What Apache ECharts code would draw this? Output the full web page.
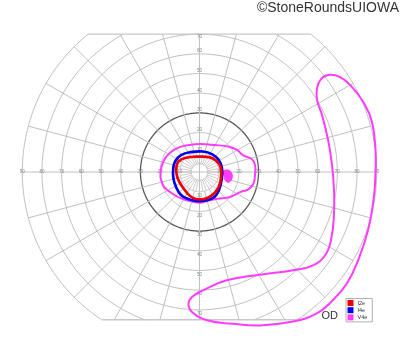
<!DOCTYPE html>
<html><head><meta charset="utf-8">
<script src="https://cdn.jsdelivr.net/npm/echarts@6/dist/echarts.min.js"></script>
<style>html,body{margin:0;padding:0;background:#fff}#c{width:400px;height:352px}</style>
</head><body><div id="c"></div>
<script>
// ---- chart grid definition (degrees of eccentricity) ----
const ringRadii = [10, 20, 30, 40, 50, 60, 70, 80, 90];
const darkRing = 30;
const innerRing = 4.2;
const meridianAngles = [0,15,30,45,60,75,90,105,120,135,150,165,180,195,210,225,240,255,270,285,300,315,330,345];
const centralTickAngles = [0,10,20,30,40,50,60,70,80,90,100,110,120,130,140,150,160,170,180,190,200,210,220,230,240,250,260,270,280,290,300,310,320,330,340,350];
const clipTop = 70, clipBottom = -75, outerRing = 90;
const horizLabels = [10,20,30,40,50,60,70,80,90];
const vertLabels = [10,20,30,40,50,60,70];

// ---- isopters: [x (deg, + = right), y (deg, + = up)] ----
const isoI2e = [[-11.7,2.5],[-10.7,5.3],[-7.4,7.1],[0.3,7.8],[5.3,7.4],[8.6,5.6],[10.7,2.5],[10.9,-3.0],[9.6,-7.9],[6.3,-11.9],[2.3,-13.7],[-1.8,-13.7],[-4.8,-12.2],[-7.9,-8.6],[-10.7,-4.1],[-11.7,-0.5]];
const isoI4e = [[-13.3,2.0],[-12.4,5.3],[-9.4,8.6],[-3.8,10.2],[1.8,10.4],[6.3,9.1],[9.6,6.3],[11.4,2.0],[11.2,-4.1],[9.9,-9.1],[7.6,-12.7],[3.3,-14.5],[-1.8,-14.7],[-5.8,-13.7],[-9.4,-11.7],[-11.9,-7.6],[-13.3,-3.0]];
const isoV4eCentral = [[-19.8,-2.0],[-19.3,2.7],[-17.5,6.9],[-14.5,10.2],[-10.4,12.5],[-5.3,13.7],[0.3,14.2],[7.9,13.7],[15.0,12.8],[19.0,11.2],[22.2,8.4],[26.5,6.6],[28.2,3.6],[28.2,-1.5],[27.3,-6.1],[24.6,-8.9],[20.6,-10.2],[15.5,-12.7],[8.9,-13.6],[3.8,-14.7],[0.3,-15.6],[-4.8,-14.7],[-9.4,-13.4],[-14.0,-10.8],[-18.0,-7.5],[-19.6,-3.6]];
const isoV4eBlindSpot = [[11.7,0.0],[13.5,1.0],[15.5,0.5],[16.6,-1.5],[16.2,-4.0],[14.5,-5.2],[13.0,-4.0],[12.4,-1.5]];
const isoV4eTemporal = [[65.3,49.3],[71.4,48.2],[77.4,43.2],[83.5,35.0],[87.6,25.4],[89.4,11.2],[89.4,0],[88.4,-14.2],[85.6,-29.5],[81.0,-43.7],[75.0,-56.4],[67.8,-65.0],[59.1,-72.1],[46.0,-76.2],[30.7,-77.9],[17.0,-77.1],[3.8,-75.3],[-3.8,-71.1],[-5.6,-66.9],[-3.8,-63.5],[1.8,-60.1],[13.8,-55.0],[30.7,-52.2],[47.5,-49.9],[57.7,-47.4],[63.8,-42.3],[66.8,-34.5],[68.3,-21.8],[68.3,-9.1],[67.3,3.6],[65.3,16.3],[62.2,29.0],[59.7,36.6],[59.7,42.7],[61.7,47.2]];

const colI2e = '#ee0000', colI4e = '#0000ee', colV4e = '#ff3cff';
const gridColor = '#c0c0c0', darkColor = '#5a5a5a', labelColor = '#8a8a8a';

function ringArcs(r){
  const hasTop = r > clipTop, hasBot = r > -clipBottom;
  const a = hasTop ? Math.asin(clipTop / r) : 0;
  const b = hasBot ? Math.asin(-clipBottom / r) : 0;
  if (!hasTop && !hasBot) return [[0, 2*Math.PI]];
  if (hasTop && !hasBot) return [[Math.PI - a, 2*Math.PI + a]];
  return [[Math.PI - a, Math.PI + b], [2*Math.PI - b, 2*Math.PI + a]];
}
function radialEnd(th){
  const s = Math.sin(th); let e = outerRing;
  if (s > 1e-9) e = Math.min(e, clipTop / s);
  if (s < -1e-9) e = Math.min(e, -clipBottom / (-s));
  return e;
}

function gridRender(params, api){
  if (params.dataIndex !== 0) return null;
  const ch = [];
  const line = (pts, color, w) => ch.push({type:'polyline', shape:{points: pts}, style:{stroke: color, lineWidth: w, fill: null}, silent: true});
  const allRings = [innerRing].concat(ringRadii);
  allRings.forEach(r => {
    ringArcs(r).forEach(([s, e]) => {
      const n = Math.max(8, Math.ceil((e - s) / (Math.PI / 180)));
      const pts = [];
      for (let i = 0; i <= n; i++){ const t = s + (e - s) * i / n; pts.push(api.coord([r*Math.cos(t), r*Math.sin(t)])); }
      line(pts, r === darkRing ? darkColor : gridColor, r === darkRing ? 1.3 : 1);
    });
  });
  centralTickAngles.forEach(d => {
    const t = d * Math.PI / 180;
    line([api.coord([innerRing*Math.cos(t), innerRing*Math.sin(t)]), api.coord([10*Math.cos(t), 10*Math.sin(t)])], gridColor, 0.8);
  });
  meridianAngles.forEach(d => {
    const t = d * Math.PI / 180;
    const r0 = (d % 90 === 0) ? 0 : 10;
    const r1 = radialEnd(t);
    line([api.coord([r0*Math.cos(t), r0*Math.sin(t)]), api.coord([r1*Math.cos(t), r1*Math.sin(t)])], gridColor, 1);
  });
  const xt = Math.sqrt(outerRing*outerRing - clipTop*clipTop);
  const xb = Math.sqrt(outerRing*outerRing - clipBottom*clipBottom);
  line([api.coord([-xt, clipTop]), api.coord([xt, clipTop])], '#c8c8c8', 1.4);
  line([api.coord([-xb, clipBottom]), api.coord([xb, clipBottom])], '#c8c8c8', 1.4);
  const txt = (p, s, va) => ch.push({type:'text', x: p[0], y: p[1], silent: true,
    style:{text: String(s), fontSize: 4.6, fontFamily: 'Liberation Sans, Arial, sans-serif', fill: labelColor, align: 'center', verticalAlign: va}});
  horizLabels.forEach(v => { txt(api.coord([-v, 0]), v, 'middle'); txt(api.coord([v, 0]), v, 'middle'); });
  vertLabels.forEach(v => {
    const pt = api.coord([0, v]);
    if (v >= clipTop) txt([pt[0], pt[1] + 0.5], v, 'top'); else txt([pt[0], pt[1] - 0.5], v, 'bottom');
    const pb = api.coord([0, -v]);
    txt([pb[0], pb[1] + 1.5], v, 'top');
  });
  return {type: 'group', children: ch};
}

function loopSeries(name, pts, color, width, filled){
  return {
    type: 'custom', name: name, coordinateSystem: 'cartesian2d', data: pts, z: 3,
    itemStyle: {color: color}, silent: true, animation: false,
    renderItem: function(params, api){
      if (params.dataIndex !== 0) return null;
      const points = pts.map(p => api.coord(p));
      return {type: 'polygon', shape: {points: points, smooth: 0.45},
        style: {fill: filled ? color : null, stroke: color, lineWidth: width, lineJoin: 'round'}};
    }
  };
}

const chart = echarts.init(document.getElementById('c'), null, {renderer: 'canvas'});
const pxPerDeg = 1.969;
chart.setOption({
  animation: false,
  backgroundColor: '#fff',
  grid: {left: 199.5 - 90*pxPerDeg, width: 180*pxPerDeg, top: 172 - 80*pxPerDeg, height: 160*pxPerDeg, containLabel: false},
  xAxis: {type: 'value', min: -90, max: 90, show: false},
  yAxis: {type: 'value', min: -80, max: 80, show: false},
  legend: {
    data: ['I2e', 'I4e', 'V4e'], orient: 'vertical', left: 346, top: 298.5,
    itemWidth: 6, itemHeight: 6, itemGap: 1.2, icon: 'rect', selectedMode: false,
    padding: [1.5, 5, 1.5, 1.5], borderColor: '#b0b0b0', borderWidth: 1, backgroundColor: '#fff',
    textStyle: {fontSize: 5.5, color: '#333', fontFamily: 'Liberation Sans, Arial, sans-serif', padding: [0,0,0,-1]}
  },
  graphic: [
    {type: 'text', right: 1, top: 1.5, style: {text: '©StoneRoundsUIOWA', fontSize: 14, fontFamily: 'Liberation Sans, Arial, sans-serif', fill: '#333'}},
    {type: 'text', left: 321.5, top: 310.5, style: {text: 'OD', fontSize: 11, fontFamily: 'Liberation Sans, Arial, sans-serif', fill: '#333'}}
  ],
  series: [
    {type: 'custom', name: 'grid', coordinateSystem: 'cartesian2d', data: [[0, 0]], z: 1, silent: true, renderItem: gridRender},
    loopSeries('V4e', isoV4eTemporal, colV4e, 2, false),
    loopSeries('V4e', isoV4eCentral, colV4e, 2, false),
    loopSeries('V4e', isoV4eBlindSpot, colV4e, 1, true),
    loopSeries('I4e', isoI4e, colI4e, 2.7, false),
    loopSeries('I2e', isoI2e, colI2e, 2.7, false)
  ]
});
</script></body></html>
